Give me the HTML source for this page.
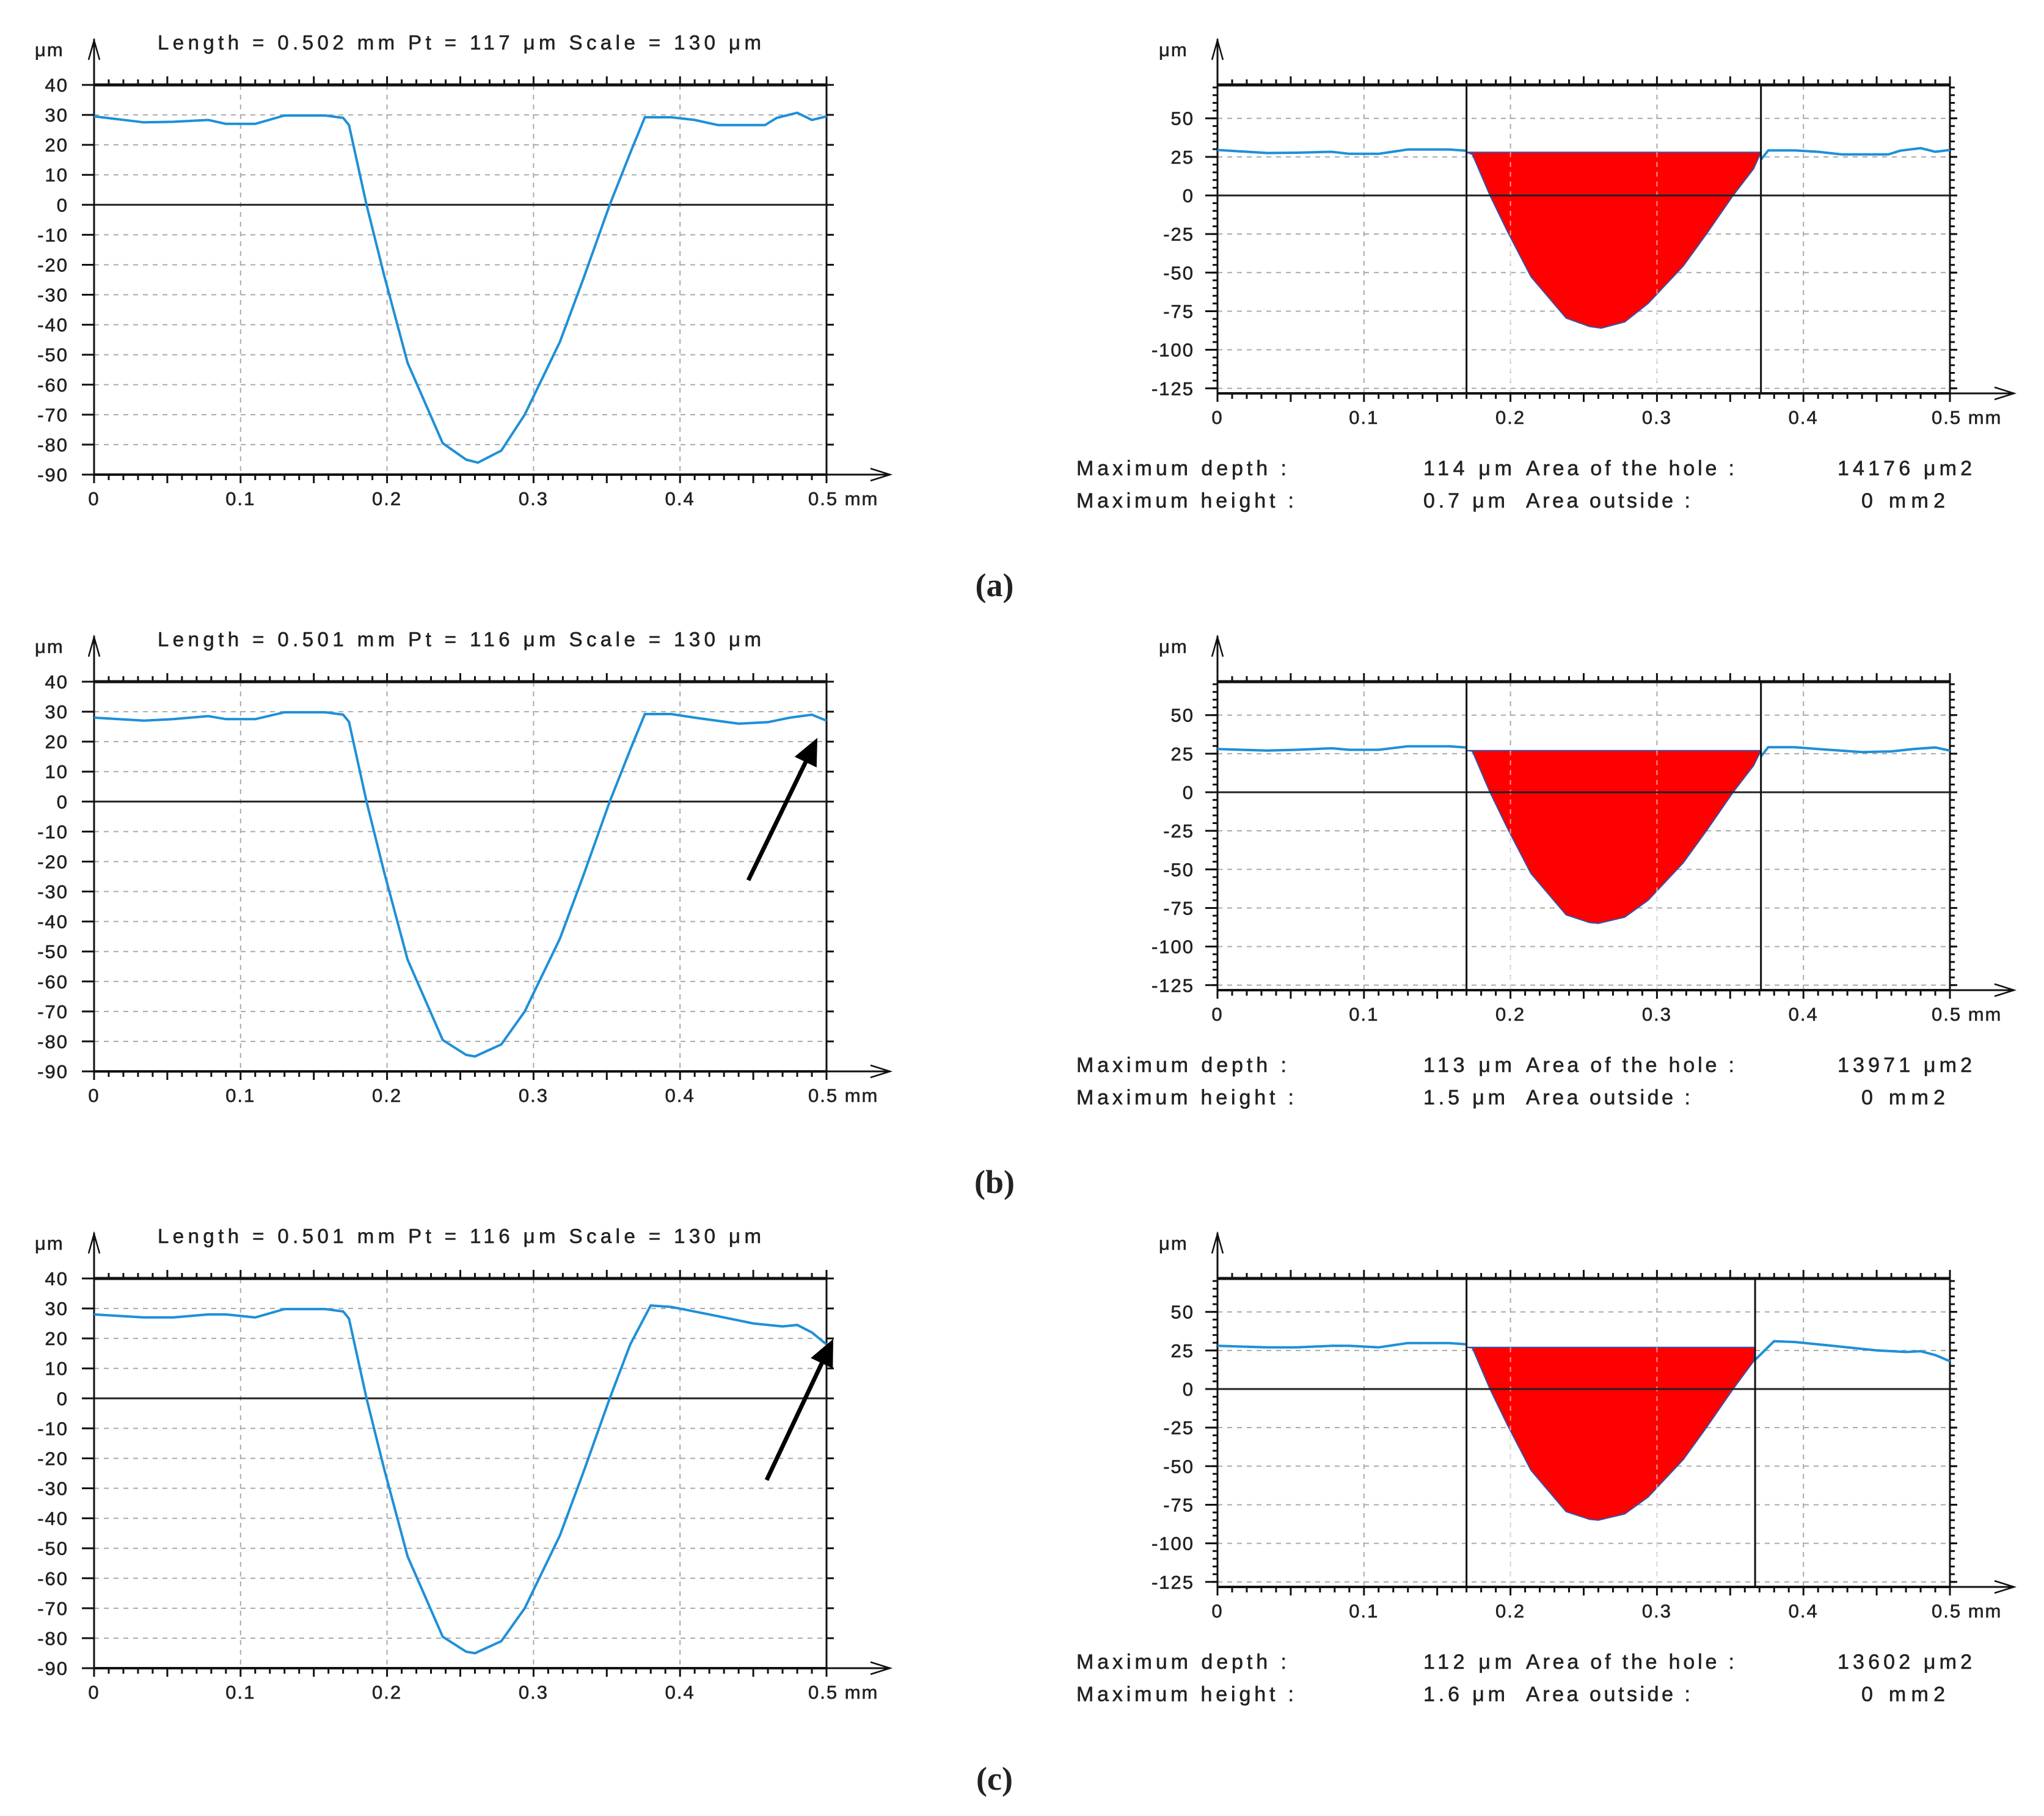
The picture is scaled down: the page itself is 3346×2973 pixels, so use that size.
<!DOCTYPE html>
<html><head><meta charset="utf-8"><style>
html,body{margin:0;padding:0;background:#fff}
svg{display:block}
text{font-family:"Liberation Sans",sans-serif;fill:#222;stroke:#222;stroke-width:0.6}
</style></head><body>
<svg id="fig" width="3346" height="2973" viewBox="0 0 3346 2973" xmlns="http://www.w3.org/2000/svg"></svg>
<script>
// ---- data ----
const profX_a = [0,0.034,0.054,0.078,0.09,0.11,0.13,0.158,0.17,0.174,0.186,0.198,0.214,0.238,0.254,0.262,0.278,0.294,0.318,0.334,0.352,0.366,0.376,0.394,0.41,0.426,0.458,0.466,0.48,0.49,0.5];
const profY_a = [29.5,27.5,27.7,28.3,27,27,29.8,29.8,29,26.6,0,-23.5,-52.7,-79.5,-85,-86,-82,-70,-45.7,-24.7,0,17.3,29.2,29.2,28.3,26.6,26.6,29,30.7,28.3,29.5];
const profX_b = [0,0.034,0.054,0.078,0.09,0.11,0.13,0.158,0.17,0.174,0.186,0.198,0.214,0.238,0.254,0.26,0.278,0.294,0.318,0.334,0.352,0.366,0.376,0.394,0.41,0.44,0.46,0.475,0.49,0.5];
const profY_b = [28,27,27.5,28.5,27.5,27.5,29.8,29.8,29,26.6,0,-23.5,-52.7,-79.5,-84.5,-85,-81,-70,-45.7,-24.7,0,17.3,29.2,29.2,28,26,26.5,28,29,27];
const profX_c = [0,0.034,0.054,0.078,0.09,0.11,0.13,0.158,0.17,0.174,0.186,0.198,0.214,0.238,0.254,0.26,0.278,0.294,0.318,0.334,0.352,0.366,0.38,0.394,0.42,0.45,0.47,0.48,0.49,0.5];
const profY_c = [28,27,27,28,28,27,29.8,29.8,29,26.6,0,-23.5,-52.7,-79.5,-84.5,-85,-81,-70,-45.7,-24.7,0,18,31,30.5,28,25,24,24.5,22,18];
const profilesX = [profX_a, profX_b, profX_c];
const profilesY = [profY_a, profY_b, profY_c];
const holeStart = [0.17, 0.17, 0.17];
const holeEnd = [0.371, 0.371, 0.367];
const cutLevel = [28, 27, 27];
const headers = ["Length = 0.502 mm  Pt = 117 μm  Scale = 130 μm","Length = 0.501 mm  Pt = 116 μm  Scale = 130 μm","Length = 0.501 mm  Pt = 116 μm  Scale = 130 μm"];
const depths = ["114 μm","113 μm","112 μm"];
const heights = ["0.7 μm","1.5 μm","1.6 μm"];
const areas = ["14176 μm2","13971 μm2","13602 μm2"];
const panelLabels = ["a","b","c"];
const leftYTicks = [40,30,20,10,0,-10,-20,-30,-40,-50,-60,-70,-80,-90];
const rightYTicks = [50,25,0,-25,-50,-75,-100,-125];
const xTicks = [0,0.1,0.2,0.3,0.4,0.5];
// ---- drawing ----
const NS="http://www.w3.org/2000/svg";
const svg=document.getElementById('fig');
function mk(tag,attrs,parent){const e=document.createElementNS(NS,tag);for(const k in attrs)e.setAttribute(k,attrs[k]);(parent||svg).appendChild(e);return e;}
function txt(s,x,y,size,anchor,parent,extra){const t=mk('text',Object.assign({x:x,y:y,'font-size':size,'text-anchor':anchor||'start'},extra||{}),parent);t.textContent=s;return t;}
function interp(xs,ys,x){for(let i=1;i<xs.length;i++){if(xs[i]>=x){const f=(x-xs[i-1])/(xs[i]-xs[i-1]);return ys[i-1]+f*(ys[i]-ys[i-1]);}}return ys[ys.length-1];}
const TL={'letter-spacing':'2'};

function drawChart(p, dy, right){
  const g=mk('g',{});
  
  
  let X0,X1,yv,top,bot,yTicks,minorStep,arrowEnd;
  if(!right){X0=154;X1=1353;const s=638/130;yv=v=>dy+139+(40-v)*s;top=yv(40);bot=yv(-90);yTicks=leftYTicks;minorStep=null;arrowEnd=1457;}
  else{X0=1993;X1=3192;const s=2.526;yv=v=>dy+320-v*s;top=dy+139;bot=dy+644;yTicks=rightYTicks;minorStep=5;arrowEnd=3297;}
  const xv=v=>X0+(X1-X0)*v/0.5;
  for(const t of xTicks.slice(1,5)) mk('line',{x1:xv(t),x2:xv(t),y1:top,y2:bot,stroke:'#aaa','stroke-width':2,'stroke-dasharray':'8,8'},g);
  for(const t of yTicks){ if(t===0) continue; mk('line',{x1:X0,x2:X1,y1:yv(t),y2:yv(t),stroke:'#aaa','stroke-width':2,'stroke-dasharray':'8,8'},g);}
  const xs=profilesX[p], ys=profilesY[p];
  if(right){
    let pts=[[xv(holeStart[p]),yv(cutLevel[p])]];
    for(let i=0;i<xs.length;i++){ if(xs[i]>holeStart[p] && xs[i]<holeEnd[p]) pts.push([xv(xs[i]),yv(Math.min(ys[i],cutLevel[p]))]); }
    pts.push([xv(holeEnd[p]),yv(cutLevel[p])]);
    const poly=mk('polygon',{points:pts.map(q=>q.join(',')).join(' '),fill:'#ff0000',stroke:'#3355aa','stroke-width':2},g);
    
    
    for(const t of [0.2,0.3]) mk('line',{x1:xv(t),x2:xv(t),y1:yv(cutLevel[p]),y2:bot,stroke:'#fff','stroke-width':2,'stroke-dasharray':'8,8','opacity':0.6},g);
  }
  mk('line',{x1:X0,x2:X1,y1:top,y2:top,stroke:'#111','stroke-width':5},g);
  mk('line',{x1:X1,x2:X1,y1:top,y2:bot,stroke:'#111','stroke-width':3},g);
  mk('line',{x1:X0,x2:X1,y1:bot,y2:bot,stroke:'#111','stroke-width':4},g);
  mk('line',{x1:X0,x2:X1,y1:yv(0),y2:yv(0),stroke:'#222','stroke-width':3},g);
  mk('line',{x1:X0,x2:X0,y1:dy+64,y2:bot+10,stroke:'#111','stroke-width':3},g);
  mk('polyline',{points:`${X0-9},${dy+98} ${X0},${dy+66} ${X0+9},${dy+98}`,fill:'none',stroke:'#111','stroke-width':2.5},g);
  mk('line',{x1:X1,x2:arrowEnd,y1:bot,y2:bot,stroke:'#111','stroke-width':3},g);
  mk('polyline',{points:`${arrowEnd-32},${bot-10} ${arrowEnd},${bot} ${arrowEnd-32},${bot+10}`,fill:'none',stroke:'#111','stroke-width':2.5},g);
  for(let i=0;i<=50;i++){const x=xv(i*0.01);const L=(i%5===0)?14:9;
    mk('line',{x1:x,x2:x,y1:top,y2:top-L,stroke:'#111','stroke-width':3},g);
    mk('line',{x1:x,x2:x,y1:bot,y2:bot+L,stroke:'#111','stroke-width':3},g);}
  if(minorStep){for(let v=-125;v<=70;v+=minorStep){const y=yv(v);if(y<top||y>bot)continue;
    mk('line',{x1:X0-8,x2:X0,y1:y,y2:y,stroke:'#111','stroke-width':3},g);
    mk('line',{x1:X1,x2:X1+8,y1:y,y2:y,stroke:'#111','stroke-width':3},g);}}
  for(const t of yTicks){const y=yv(t);
    mk('line',{x1:X0-20,x2:X0,y1:y,y2:y,stroke:'#111','stroke-width':3},g);
    mk('line',{x1:X1,x2:X1+12,y1:y,y2:y,stroke:'#111','stroke-width':3},g);
    txt(String(t),right?X0-38:X0-42,y+11,31,'end',g,TL);}
  for(const t of xTicks) txt(t===0.5?'0.5 mm':String(t),xv(t)+(t===0.5?-30:0),bot+50,31,t===0.5?'start':'middle',g,TL);
  txt('μm',right?1897:57,dy+92,31,'start',g,TL);
  let d='';
  if(!right){
    for(let i=0;i<xs.length;i++) d+=(i?'L':'M')+xv(xs[i]).toFixed(1)+','+yv(ys[i]).toFixed(1)+' ';
  } else {
    d='M'+xv(0)+','+yv(ys[0]).toFixed(1)+' ';
    for(let i=1;i<xs.length&&xs[i]<holeStart[p];i++) d+='L'+xv(xs[i]).toFixed(1)+','+yv(ys[i]).toFixed(1)+' ';
    d+='L'+xv(holeStart[p]).toFixed(1)+','+yv(interp(xs,ys,holeStart[p])).toFixed(1)+' ';
    d+='M'+xv(holeEnd[p]).toFixed(1)+','+yv(interp(xs,ys,holeEnd[p])).toFixed(1)+' ';
    for(let i=0;i<xs.length;i++) if(xs[i]>holeEnd[p]) d+='L'+xv(xs[i]).toFixed(1)+','+yv(ys[i]).toFixed(1)+' ';
  }
  const path=mk('path',{d:d,fill:'none',stroke:'#1e90d8','stroke-width':4},g);
  
  
  if(right){
    mk('line',{x1:xv(holeStart[p]),x2:xv(holeStart[p]),y1:top,y2:bot,stroke:'#111','stroke-width':3},g);
    mk('line',{x1:xv(holeEnd[p]),x2:xv(holeEnd[p]),y1:top,y2:bot,stroke:'#111','stroke-width':3},g);
    const la={lengthAdjust:'spacing'};
    txt('Maximum depth :',1762,dy+778,34,'start',g,Object.assign({textLength:344},la));
    txt('Maximum height :',1762,dy+831,34,'start',g,Object.assign({textLength:356},la));
    txt(depths[p],2330,dy+778,34,'start',g,Object.assign({textLength:145},la));
    txt(heights[p],2330,dy+831,34,'start',g,Object.assign({textLength:134},la));
    txt('Area of the hole :',2498,dy+778,34,'start',g,Object.assign({textLength:341},la));
    txt('Area outside :',2498,dy+831,34,'start',g,Object.assign({textLength:269},la));
    txt(areas[p],3008,dy+778,34,'start',g,Object.assign({textLength:220},la));
    txt('0 mm2',3047,dy+831,34,'start',g,Object.assign({textLength:137},la));
  } else {
    const h=txt(headers[p],258,dy+81,33,'start',g,{'xml:space':'preserve',textLength:988,lengthAdjust:'spacing'});
    
    
  }
}
const offsets=[0,977,1954];
for(let p=0;p<3;p++){
  drawChart(p,offsets[p],false);
  drawChart(p,offsets[p],true);
  const lab=txt('('+panelLabels[p]+')',1628,offsets[p]+976,54,'middle',svg,{style:'font-family:"Liberation Serif",serif;font-weight:bold;stroke:none'});
  
  
}
function arrow(x1,y1,x2,y2,name){
  const g=mk('g',{});
  
  
  const ang=Math.atan2(y2-y1,x2-x1),L=44,W=20;
  const bx=x2-L*Math.cos(ang),by=y2-L*Math.sin(ang);
  mk('line',{x1:x1,y1:y1,x2:bx,y2:by,stroke:'#000','stroke-width':7},g);
  const px=-Math.sin(ang),py=Math.cos(ang);
  mk('polygon',{points:`${x2},${y2} ${bx+W*px},${by+W*py} ${bx-W*px},${by-W*py}`,fill:'#000'},g);
}
arrow(1225,1441,1338,1208,'annotation-arrow-b');
arrow(1255,2423,1364,2192,'annotation-arrow-c');
</script>
</body></html>
